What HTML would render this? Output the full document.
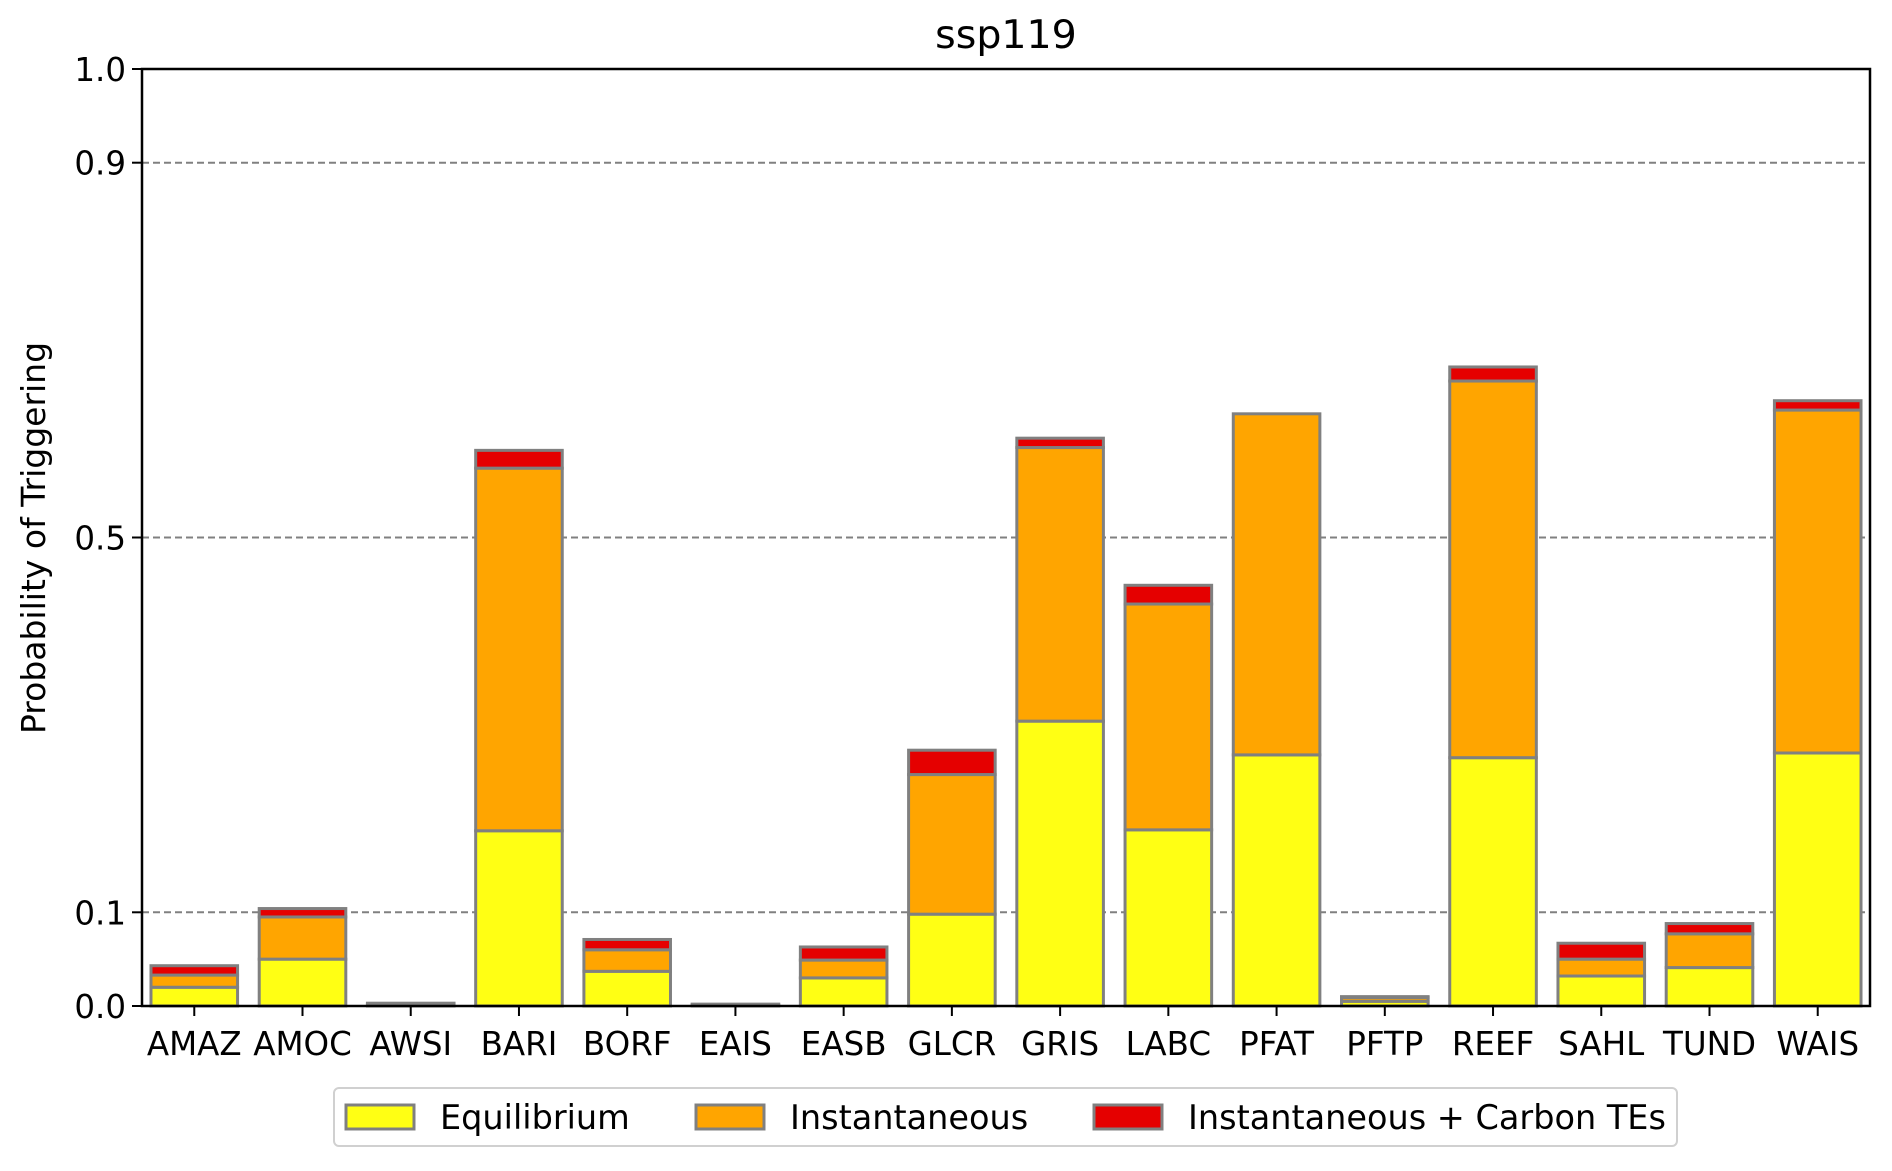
<!DOCTYPE html>
<html><head><meta charset="utf-8"><style>
html,body{margin:0;padding:0;background:#fff;}
svg{display:block;font-family:"DejaVu Sans","Liberation Sans",sans-serif;}
</style></head><body>
<svg id="chart" width="1892" height="1171" viewBox="0 0 1892 1171" xmlns="http://www.w3.org/2000/svg">
<rect width="1892" height="1171" fill="#fff"/>
<g id="grid"></g><g id="bars"></g><g id="axes"></g>
</svg>
<script>
const categories = ["AMAZ","AMOC","AWSI","BARI","BORF","EAIS","EASB","GLCR","GRIS","LABC","PFAT","PFTP","REEF","SAHL","TUND","WAIS"];
const equilibrium = [0.020,0.050,0.000,0.187,0.037,0.000,0.030,0.098,0.304,0.188,0.268,0.005,0.265,0.032,0.041,0.270];
const instantaneous = [0.013,0.045,0.002,0.387,0.023,0.001,0.019,0.149,0.292,0.241,0.364,0.004,0.402,0.018,0.036,0.366];
const carbonTEs = [0.010,0.009,0.001,0.019,0.011,0.001,0.014,0.026,0.010,0.020,0.000,0.001,0.015,0.017,0.011,0.010];
const yTicks = [0.0,0.1,0.5,0.9,1.0];
const yTickLabels = ["0.0","0.1","0.5","0.9","1.0"];
const gridValues = [0.1,0.5,0.9];

const NS="http://www.w3.org/2000/svg";
const L=142,R=1870,T=69,B=1006;
const step=(R-L)/(categories.length-1+0.966);
function xs(i){return L+step*(i+0.483);}
function ys(v){return B-(B-T)*v;}
const bw=step*0.8;
function mk(tag,attrs,parent,text){const e=document.createElementNS(NS,tag);for(const k in attrs)e.setAttribute(k,attrs[k]);if(text!==undefined)e.textContent=text;parent.appendChild(e);return e;}
const grid=document.getElementById('grid'),bars=document.getElementById('bars'),axes=document.getElementById('axes');
gridValues.forEach(v=>{
  const g=mk('line',{x1:L,x2:R,y1:ys(v),y2:ys(v),stroke:'#808080','stroke-width':2,'stroke-dasharray':'7,4'},grid);
  
  
});
const series=[[equilibrium,'#ffff14'],[instantaneous,'#ffa500'],[carbonTEs,'#e50000']];
categories.forEach((c,i)=>{
  let base=0;
  series.forEach(([arr,col],s)=>{
    const v=arr[i];
    const r=mk('rect',{x:xs(i)-bw/2,y:ys(base+v),width:bw,height:Math.max(ys(base)-ys(base+v),0),fill:col,stroke:'#808080','stroke-width':3},bars);
    
    
    base+=v;
  });
  const tk=mk('line',{x1:xs(i),x2:xs(i),y1:B,y2:B+10,stroke:'#000','stroke-width':2},axes);
  
  
  const tl=mk('text',{x:xs(i),y:1055,'text-anchor':'middle','font-size':32.5,fill:'#000'},axes,c);
  
  
});
yTicks.forEach((v,i)=>{
  const tk=mk('line',{x1:L-10,x2:L,y1:ys(v),y2:ys(v),stroke:'#000','stroke-width':2},axes);
  
  
  const tl=mk('text',{x:L-16,y:ys(v)+12,'text-anchor':'end','font-size':32.5,fill:'#000'},axes,yTickLabels[i]);
  
  
});
const frame=mk('rect',{x:L,y:T,width:R-L,height:B-T,fill:'none',stroke:'#000','stroke-width':2.5},axes);


const title=mk('text',{x:(L+R)/2,y:48,'text-anchor':'middle','font-size':39.5,fill:'#000'},axes,'ssp119');


const yl=mk('text',{x:0,y:0,'text-anchor':'middle','font-size':33,fill:'#000',transform:'translate(45,538) rotate(-90)'},axes,'Probability of Triggering');


const lg=mk('g',{},axes);


const lb=mk('rect',{x:334,y:1088,width:1343,height:58,rx:5,fill:'#fff',stroke:'#d0d0d0','stroke-width':2},lg);


const legendItems=[['Equilibrium','#ffff14',346],['Instantaneous','#ffa500',696],['Instantaneous + Carbon TEs','#e50000',1094]];
legendItems.forEach(([t,col,x])=>{
  const p=mk('rect',{x:x,y:1105,width:68,height:24,fill:col,stroke:'#808080','stroke-width':3},lg);
  
  
  const tx=mk('text',{x:x+94,y:1129,'font-size':33.5,fill:'#000'},lg,t);
  
  
});
</script>
</body></html>
